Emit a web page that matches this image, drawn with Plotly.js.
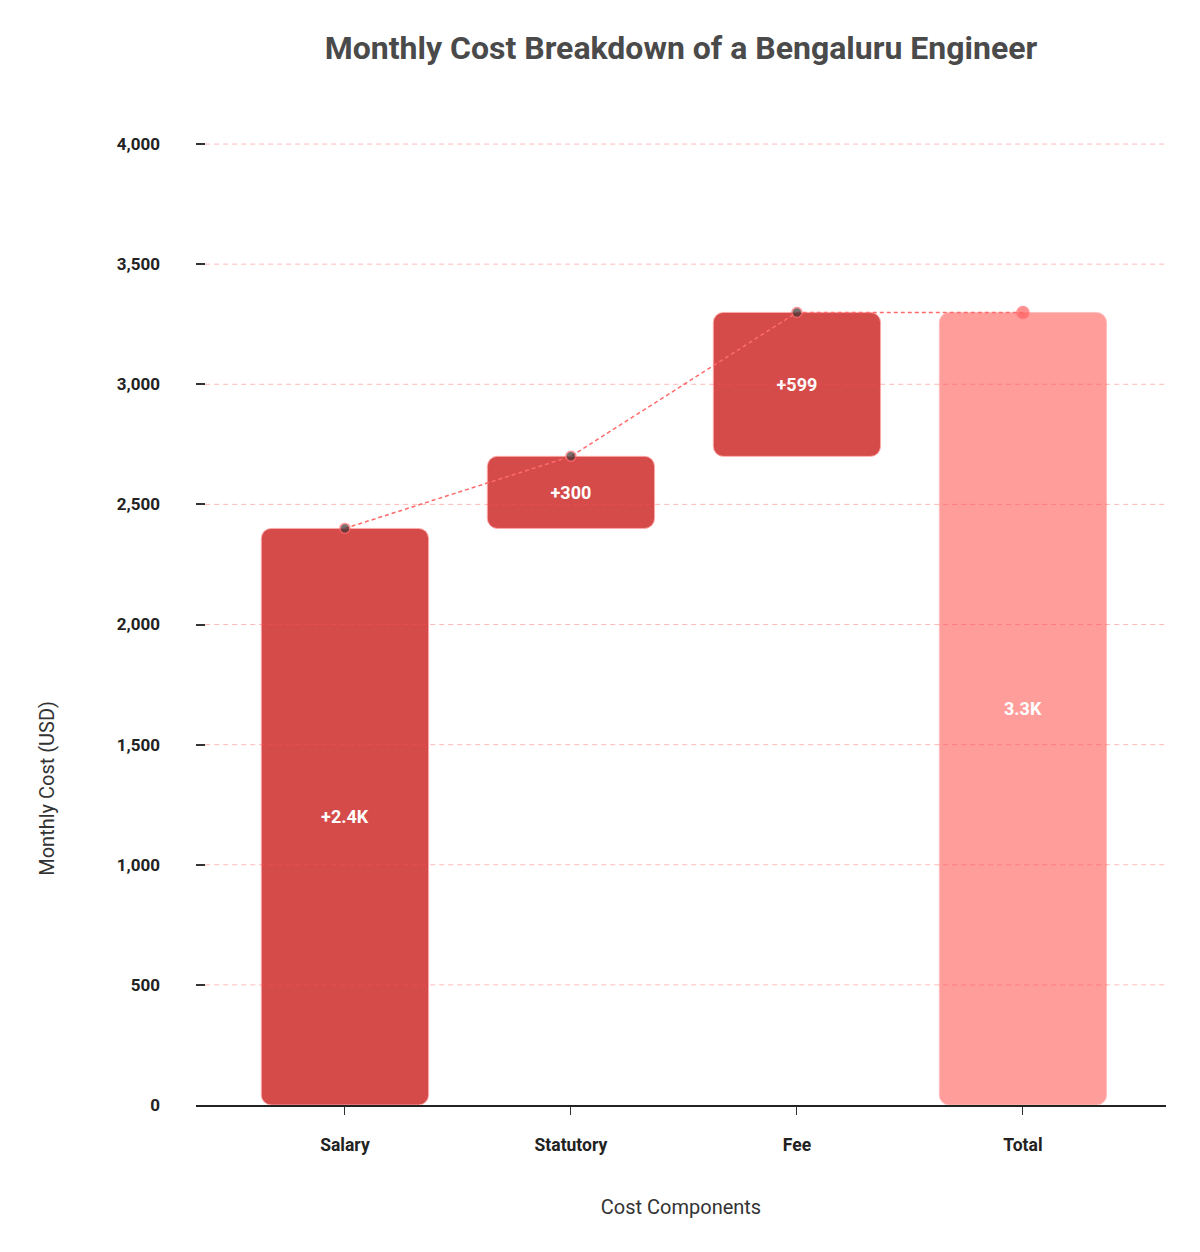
<!DOCTYPE html>
<html>
<head>
<meta charset="utf-8">
<script src="https://cdn.plot.ly/plotly-3.0.1.min.js"></script>
<style>
  body { margin: 0; background: #fff; }
  #chart { width: 1200px; height: 1252px; }
</style>
</head>
<body>
<div id="chart"></div>
<script>
// cost components (USD per month)
var categories = ["Salary", "Statutory", "Fee", "Total"];
var steps = [2400, 300, 599];

var tickVals = [0, 500, 1000, 1500, 2000, 2500, 3000, 3500, 4000];

// running totals for bar bases and the connector line
var bases = [];
var tops = [];
var running = 0;
steps.forEach(function (v) {
  bases.push(running);
  running += v;
  tops.push(running);
});
var total = running;

function shortNum(v) {
  return v >= 1000 ? (v / 1000).toFixed(1) + "K" : String(v);
}

var barFont = { family: "Roboto", size: 18, color: "#ffffff", weight: "bold" };

var stepTrace = {
  type: "bar",
  x: categories.slice(0, 3),
  y: steps,
  base: bases,
  width: 0.74,
  marker: {
    color: "#d44b4a",
    cornerradius: 10,
    line: { color: "rgba(255,170,170,0.9)", width: 1 }
  },
  text: steps.map(function (v) { return "+" + shortNum(v); }),
  textposition: "inside",
  insidetextanchor: "middle",
  textfont: barFont,
  hoverinfo: "skip",
  showlegend: false
};

var totalTrace = {
  type: "bar",
  x: [categories[3]],
  y: [total],
  base: [0],
  width: 0.74,
  marker: {
    color: "#ff9d9b",
    cornerradius: 10,
    line: { color: "rgba(255,190,190,0.9)", width: 1 }
  },
  text: [shortNum(total)],
  textposition: "inside",
  insidetextanchor: "middle",
  textfont: barFont,
  hoverinfo: "skip",
  showlegend: false
};

var connector = {
  type: "scatter",
  mode: "lines+markers",
  x: categories,
  y: tops.concat([total]),
  line: { color: "#ff6b6b", width: 1.5, dash: "4px,3px" },
  marker: {
    color: ["#3d3535", "#3d3535", "#3d3535", "#ff6060"],
    size: [10, 10, 10, 12],
    line: { color: "#ff6b6b", width: 1.5 }
  },
  hoverinfo: "skip",
  showlegend: false
};

// dashed grid drawn over the bars, like the original
var gridShapes = tickVals.filter(function (v) { return v > 0; }).map(function (v) {
  return {
    type: "line",
    layer: "above",
    xref: "paper",
    yref: "y",
    x0: 0.0095,
    x1: 1,
    y0: v,
    y1: v,
    line: { color: "rgba(255,80,80,0.4)", width: 1, dash: "5px,4px" }
  };
});

var layout = {
  width: 1200,
  height: 1252,
  margin: { l: 196, r: 34, t: 96, b: 147 },
  paper_bgcolor: "#ffffff",
  plot_bgcolor: "#ffffff",
  font: { family: "Roboto", color: "#222" },
  barmode: "overlay",
  title: {
    text: "Monthly Cost Breakdown of a Bengaluru Engineer",
    font: { family: "Roboto", size: 32, color: "#4a4a4a", weight: "bold" },
    x: 0.5,
    xref: "paper",
    y: 0.962,
    yanchor: "middle"
  },
  xaxis: {
    type: "category",
    range: [-0.659, 3.633],
    showline: true,
    linecolor: "#222",
    linewidth: 1.5,
    ticks: "outside",
    ticklen: 8,
    tickcolor: "#333",
    showgrid: false,
    tickfont: { family: "Roboto", size: 17.5, color: "#222", weight: "bold" },
    ticklabelstandoff: 15,
    title: {
      text: "Cost Components",
      font: { family: "Roboto", size: 20, color: "#333" },
      standoff: 46
    }
  },
  yaxis: {
    range: [0, 4200],
    tickvals: tickVals,
    tickformat: ",",
    ticks: "inside",
    ticklen: 9,
    tickcolor: "#333",
    tickwidth: 1.5,
    showline: false,
    zeroline: false,
    showgrid: false,
    layer: "above traces",
    tickfont: { family: "Roboto", size: 17, color: "#222", weight: "bold" },
    ticklabelstandoff: 35
  },
  shapes: gridShapes,
  annotations: [{
    text: "Monthly Cost (USD)",
    xref: "paper",
    yref: "paper",
    x: -0.153,
    y: 0.314,
    xanchor: "center",
    yanchor: "middle",
    textangle: -90,
    showarrow: false,
    font: { family: "Roboto", size: 20, color: "#333" }
  }]
};

Plotly.newPlot("chart", [stepTrace, totalTrace, connector], layout, { displayModeBar: false });
</script>
</body>
</html>
